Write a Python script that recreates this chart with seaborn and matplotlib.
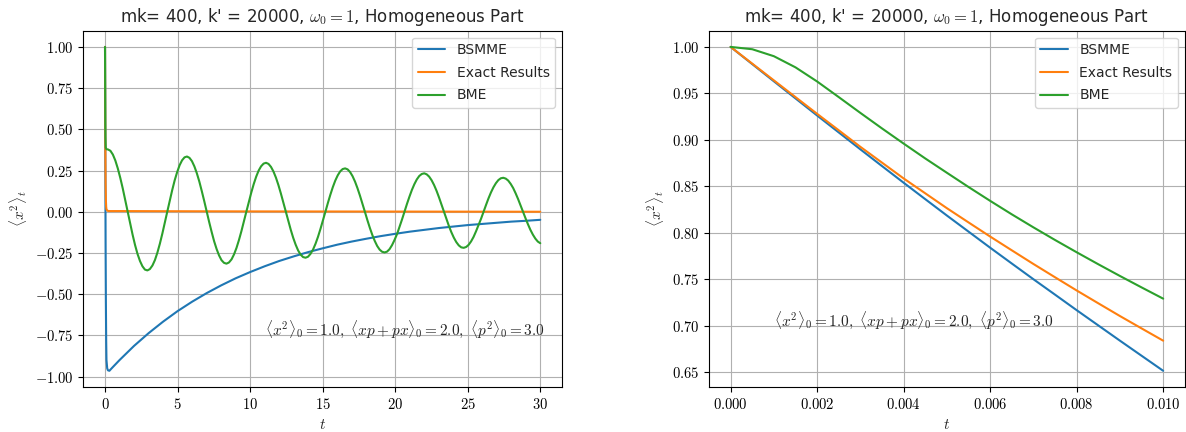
import numpy as np
import pandas as pd
import matplotlib
matplotlib.use("Agg")
import matplotlib.pyplot as plt
from matplotlib.ticker import FuncFormatter
import seaborn as sns

# ---------------- data ----------------
# short-time window, 0 .. 0.01
t_short = [0.0, 0.0005, 0.001, 0.0015, 0.002, 0.0025, 0.003, 0.0035, 0.004, 0.0045,
           0.005, 0.0055, 0.006, 0.0065, 0.007, 0.0075, 0.008, 0.0085, 0.009, 0.0095, 0.010]
bsmme_short = [1.0, 0.9815, 0.963, 0.9446, 0.9262, 0.908, 0.8898, 0.8718, 0.8539, 0.8362,
               0.8186, 0.8013, 0.784, 0.767, 0.7501, 0.7335, 0.7168, 0.7004, 0.684, 0.6678, 0.6516]
exact_short = [1.0, 0.982, 0.964, 0.946, 0.928, 0.9103, 0.8925, 0.8755, 0.8585, 0.8425,
               0.8265, 0.8112, 0.796, 0.7812, 0.7665, 0.7522, 0.738, 0.7242, 0.7105, 0.6972, 0.684]
bme_short = [1.0, 0.9975, 0.990, 0.978, 0.9628, 0.946, 0.929, 0.9123, 0.896, 0.880,
             0.8646, 0.8493, 0.8344, 0.8199, 0.8059, 0.7923, 0.7791, 0.7662, 0.7536, 0.7413, 0.7292]

# long-time continuation, 0.01 .. 30
t_bsmme_long = [0.02, 0.04, 0.06, 0.08, 0.1, 0.15, 0.2, 0.3, 0.5, 1, 1.5, 2,
                3, 4, 5, 6, 7, 8, 9, 10, 11, 12, 13, 14, 15, 16, 17, 18, 19, 20,
                21, 22, 23, 24, 25, 26, 27, 28, 29, 30]
bsmme_long = [0.33, -0.2, -0.55, -0.78, -0.9, -0.95, -0.962, -0.965, -0.946, -0.900, -0.857, -0.814,
              -0.737, -0.667, -0.603, -0.546, -0.494, -0.447, -0.404, -0.366, -0.331, -0.299,
              -0.271, -0.245, -0.222, -0.200, -0.181, -0.164, -0.148, -0.134, -0.121, -0.110,
              -0.099, -0.090, -0.081, -0.074, -0.067, -0.060, -0.055, -0.049]

t_exact_long = [0.02, 0.04, 0.06, 0.08, 0.1, 0.15, 0.2, 0.3, 1, 5, 10, 20, 30]
exact_long = [0.42, 0.17, 0.07, 0.03, 0.015, 0.007, 0.005, 0.004, 0.004, 0.003, 0.002, 0.001, 0.0]

# BME long-time samples (two interleaved sets of readings)
t_bme_a = [0.02, 0.03, 0.05, 0.1,
           0.20, 0.54, 0.88, 1.22, 1.56, 1.90, 2.24, 2.58, 2.92, 3.27, 3.61, 3.95,
           4.29, 4.63, 4.97, 5.31, 5.65, 5.99, 6.33, 6.67, 7.01, 7.35, 7.69, 8.03,
           8.37, 8.72, 9.06, 9.40, 9.74, 10.08, 10.42, 10.76, 11.10, 11.44, 11.78, 12.12,
           12.46, 12.80, 13.14, 13.48, 13.82, 14.16, 14.51, 14.85, 15.19, 15.53, 15.87, 16.21,
           16.55, 16.89, 17.23, 17.57, 17.91, 18.25, 18.59, 18.93, 19.27, 19.61, 19.95, 20.30,
           20.64, 20.98, 21.32, 21.66, 22.00, 22.34, 22.68, 23.02, 23.36, 23.70, 24.04, 24.38,
           24.72, 25.06, 25.40, 25.74, 26.09, 26.43, 26.77, 27.11, 27.45, 27.79, 28.13, 28.47,
           28.81, 29.15, 29.49, 29.83, 30.0]
bme_a = [0.55, 0.45, 0.39, 0.379,
         0.378, 0.347, 0.263, 0.142, 0.0, -0.139, -0.256, -0.331,
         -0.356, -0.326, -0.248, -0.133, 0.0, 0.131, 0.240, 0.312,
         0.335, 0.307, 0.233, 0.125, 0.0, -0.123, -0.226, -0.294,
         -0.315, -0.289, -0.220, -0.118, 0.0, 0.116, 0.213, 0.276,
         0.297, 0.272, 0.207, 0.111, 0.0, -0.109, -0.200, -0.260,
         -0.279, -0.256, -0.194, -0.104, 0.0, 0.103, 0.189, 0.245,
         0.263, 0.241, 0.183, 0.098, 0.0, -0.097, -0.177, -0.230,
         -0.247, -0.227, -0.172, -0.092, 0.0, 0.091, 0.167, 0.217,
         0.233, 0.213, 0.162, 0.087, 0.0, -0.086, -0.157, -0.204,
         -0.219, -0.201, -0.153, -0.082, 0.0, 0.081, 0.148, 0.192,
         0.206, 0.189, 0.144, 0.077, 0.0, -0.076, -0.139, -0.181, -0.191]
t_bme_b = [0.37, 0.71, 1.05, 1.39, 1.73, 2.07, 2.41, 2.75, 3.09, 3.44, 3.78, 4.12,
           4.46, 4.80, 5.14, 5.48, 5.82, 6.16, 6.50, 6.84, 7.18, 7.52, 7.86, 8.20,
           8.54, 8.89, 9.23, 9.57, 9.91, 10.25, 10.59, 10.93, 11.27, 11.61, 11.95, 12.29,
           12.63, 12.97, 13.31, 13.65, 13.99, 14.34, 14.68, 15.02, 15.36, 15.70, 16.04, 16.38,
           16.72, 17.06, 17.40, 17.74, 18.08, 18.42, 18.76, 19.10, 19.44, 19.78, 20.13, 20.47,
           20.81, 21.15, 21.49, 21.83, 22.17, 22.51, 22.85, 23.19, 23.53, 23.87, 24.21, 24.55,
           24.89, 25.23, 25.57, 25.92, 26.26, 26.60, 26.94, 27.28, 27.62, 27.96, 28.30, 28.64,
           28.98, 29.32, 29.66]
bme_b = [0.370, 0.311, 0.206, 0.072, -0.071, -0.202, -0.299, -0.351,
         -0.348, -0.293, -0.194, -0.068, 0.067, 0.190, 0.282, 0.330,
         0.327, 0.275, 0.183, 0.064, -0.063, -0.179, -0.265, -0.310,
         -0.308, -0.259, -0.172, -0.060, 0.059, 0.168, 0.250, 0.292,
         0.290, 0.244, 0.162, 0.056, -0.056, -0.158, -0.235, -0.275,
         -0.273, -0.229, -0.152, -0.053, 0.053, 0.149, 0.221, 0.259,
         0.257, 0.216, 0.143, 0.050, -0.050, -0.140, -0.208, -0.243,
         -0.242, -0.203, -0.135, -0.047, 0.047, 0.132, 0.196, 0.229,
         0.227, 0.191, 0.127, 0.044, -0.044, -0.124, -0.184, -0.216,
         -0.214, -0.180, -0.119, -0.042, 0.041, 0.117, 0.173, 0.203,
         0.201, 0.169, 0.112, 0.039, -0.039, -0.110, -0.163]

series_names = ["BSMME", "Exact Results", "BME"]
series_colors = ["#1f77b4", "#ff7f0e", "#2ca02c"]

title_txt = r"mk= 400, k' = 20000, $\omega_0 = 1$, Homogeneous Part"
note_txt = (r"$\langle x^2\rangle_0 = 1.0,\ \langle xp + px\rangle_0 = 2.0,\ "
            r"\langle p^2\rangle_0 = 3.0$")

# ---------------- style ----------------
sns.set_style("ticks")
plt.rcParams["font.family"] = ["DejaVu Sans"]
plt.rcParams["mathtext.fontset"] = "cm"
plt.rcParams["axes.edgecolor"] = "black"
plt.rcParams["axes.linewidth"] = 0.8
plt.rcParams["xtick.color"] = "black"
plt.rcParams["ytick.color"] = "black"

fig = plt.figure(figsize=(11.86, 4.32), dpi=100)
ax1 = fig.add_axes([0.0702, 0.1042, 0.4037, 0.8247])
ax2 = fig.add_axes([0.5978, 0.1042, 0.4012, 0.8247])

# assemble BME long part in time order
t_bme_all = np.concatenate([t_bme_a, t_bme_b])
v_bme_all = np.concatenate([bme_a, bme_b])
order = np.argsort(t_bme_all, kind="stable")
t_bme_long = t_bme_all[order]
bme_long = v_bme_all[order]

short_vals = [bsmme_short, exact_short, bme_short]
long_t = [t_bsmme_long, t_exact_long, t_bme_long]
long_vals = [bsmme_long, exact_long, bme_long]

for name, col, sv, lt, lv in zip(series_names, series_colors, short_vals, long_t, long_vals):
    df = pd.DataFrame({"t": np.concatenate([t_short, lt]),
                       "v": np.concatenate([sv, lv])})
    sns.lineplot(data=df, x="t", y="v", ax=ax1, color=col, label=name,
                 lw=1.5, estimator=None, sort=False)
    df2 = pd.DataFrame({"t": t_short, "v": sv})
    sns.lineplot(data=df2, x="t", y="v", ax=ax2, color=col, label=name,
                 lw=1.5, estimator=None, sort=False)

ax1.set_xticks([0, 5, 10, 15, 20, 25, 30])
ax1.set_yticks([1.0, 0.75, 0.5, 0.25, 0.0, -0.25, -0.5, -0.75, -1.0])
ax1.xaxis.set_major_formatter(FuncFormatter(lambda v, p: rf"${v:.0f}$"))
ax1.yaxis.set_major_formatter(FuncFormatter(lambda v, p: rf"${v:.2f}$"))
ax2.set_xticks([0.0, 0.002, 0.004, 0.006, 0.008, 0.010])
ax2.set_yticks([1.0, 0.95, 0.9, 0.85, 0.8, 0.75, 0.7, 0.65])
ax2.xaxis.set_major_formatter(FuncFormatter(lambda v, p: rf"${v:.3f}$"))
ax2.yaxis.set_major_formatter(FuncFormatter(lambda v, p: rf"${v:.2f}$"))

ax1.text(11.0, -0.75, note_txt, fontsize=11, color="#262626")
ax2.text(0.001, 0.70, note_txt, fontsize=11, color="#262626")

for ax in (ax1, ax2):
    ax.grid(True, color="#b0b0b0", lw=0.8)
    ax.set_title(title_txt, fontsize=12)
    ax.set_xlabel(r"$t$", fontsize=11)
    ax.set_ylabel(r"$\langle x^2\rangle_t$", fontsize=11)
    ax.tick_params(labelsize=10.5, length=3.5, width=0.8, direction="out")
    ax.legend(loc="upper right", fontsize=10, labelspacing=0.62, frameon=True,
              framealpha=0.8, edgecolor="#cccccc", fancybox=True)
    for s in ax.spines.values():
        s.set_visible(True)

fig.savefig("out.png", dpi=100)
